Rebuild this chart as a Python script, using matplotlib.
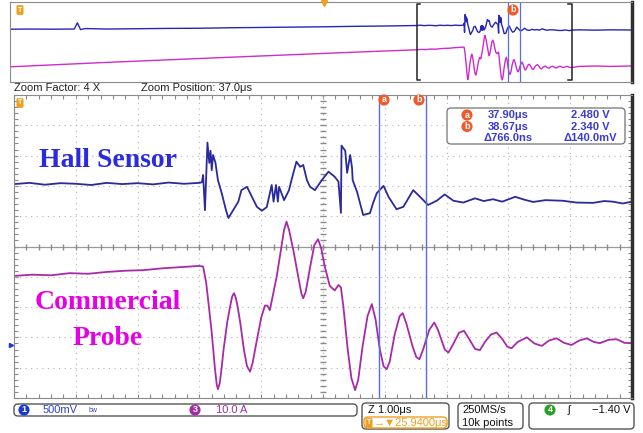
import numpy as np
import matplotlib.pyplot as plt
from matplotlib.patches import FancyBboxPatch

plt.rcParams['font.family'] = ['Liberation Sans', 'DejaVu Sans']

W, H = 643, 433

# zoom window: time in us, amplitude in screen divisions
hall_t = [32.00, 32.25, 32.50, 32.75, 33.00, 33.25, 33.50, 33.75, 34.00, 34.25,
          34.50, 34.75, 35.00, 35.04, 35.06, 35.09, 35.13, 35.16, 35.18, 35.20,
          35.22, 35.26, 35.30, 35.36, 35.43, 35.47, 35.52, 35.63, 35.68, 35.77,
          35.85, 35.93, 36.01, 36.09, 36.17, 36.20, 36.24, 36.27, 36.29, 36.37,
          36.45, 36.49, 36.57, 36.63, 36.68, 36.74, 36.79, 36.87, 36.98, 37.09,
          37.19, 37.25, 37.29, 37.30, 37.36, 37.39, 37.44, 37.47, 37.48, 37.55,
          37.65, 37.76, 37.81, 37.87, 37.98, 38.06, 38.19, 38.30, 38.46, 38.57,
          38.70, 38.84, 38.97, 39.11, 39.27, 39.46, 39.60, 39.75, 39.90, 40.11,
          40.25, 40.40, 40.60, 40.88, 41.10, 41.37, 41.55, 41.69, 41.85, 42.00]
hall_v = [2.06, 2.10, 2.04, 2.09, 2.07, 2.03, 2.10, 2.06, 2.09, 2.05,
          2.11, 2.07, 2.10, 2.12, 2.36, 1.20, 3.43, 2.76, 3.16, 2.52,
          3.02, 2.76, 2.19, 1.77, 1.20, 0.94, 1.11, 1.48, 1.86, 1.97,
          1.64, 1.31, 1.18, 1.30, 2.03, 1.48, 2.03, 1.48, 1.97, 1.53,
          1.86, 2.19, 2.80, 2.63, 2.69, 2.19, 1.97, 1.86, 2.19, 2.47,
          2.30, 2.14, 1.11, 3.33, 3.16, 2.43, 3.02, 2.59, 2.19, 1.81,
          1.04, 1.10, 1.43, 1.76, 2.00, 1.64, 1.23, 1.31, 1.86, 1.64,
          1.37, 1.51, 1.72, 1.51, 1.45, 1.59, 1.50, 1.56, 1.48, 1.64,
          1.55, 1.47, 1.53, 1.51, 1.45, 1.44, 1.50, 1.48, 1.42, 1.48]

probe_t = [32.00, 32.30, 32.60, 32.90, 33.20, 33.50, 33.80, 34.10, 34.40, 34.70,
           35.00, 35.06, 35.11, 35.16, 35.20, 35.25, 35.28, 35.30, 35.33, 35.36,
           35.39, 35.45, 35.50, 35.53, 35.56, 35.59, 35.62, 35.66, 35.72, 35.77,
           35.82, 35.86, 35.93, 36.00, 36.06, 36.10, 36.14, 36.19, 36.25, 36.32,
           36.37, 36.41, 36.45, 36.52, 36.60, 36.65, 36.68, 36.72, 36.79, 36.86,
           36.92, 36.97, 37.03, 37.11, 37.19, 37.25, 37.29, 37.33, 37.40, 37.46,
           37.52, 37.57, 37.64, 37.72, 37.79, 37.85, 37.92, 37.98, 38.03, 38.08,
           38.16, 38.24, 38.29, 38.35, 38.45, 38.51, 38.56, 38.62, 38.72, 38.80,
           38.86, 38.97, 39.03, 39.10, 39.20, 39.28, 39.35, 39.46, 39.54, 39.62,
           39.72, 39.81, 39.90, 39.98, 40.05, 40.15, 40.30, 40.42, 40.54, 40.66,
           40.78, 40.90, 41.02, 41.15, 41.27, 41.38, 41.48, 41.62, 41.75, 41.88,
           42.00]
probe_v = [-0.97, -0.93, -0.95, -0.88, -0.90, -0.84, -0.80, -0.78, -0.72, -0.68,
           -0.64, -0.66, -1.20, -2.10, -2.85, -4.00, -4.55, -4.71, -4.50, -4.00,
           -3.42, -2.50, -1.95, -1.65, -1.54, -1.70, -2.00, -2.50, -3.40, -3.95,
           -4.13, -3.85, -3.09, -2.35, -1.95, -1.95, -2.10, -1.60, -1.00, -0.10,
           0.55, 0.82, 0.55, -0.12, -1.00, -1.55, -1.71, -1.50, -0.70, 0.05,
           0.24, -0.05, -0.67, -1.30, -1.45, -1.27, -1.35, -1.99, -3.40, -4.35,
           -4.74, -4.40, -3.30, -2.30, -1.90, -2.40, -3.40, -3.95, -4.05, -3.80,
           -2.90, -2.30, -2.20, -2.55, -3.30, -3.65, -3.72, -3.40, -2.75, -2.51,
           -2.75, -3.40, -3.50, -3.25, -2.85, -2.78, -3.00, -3.38, -3.42, -3.15,
           -2.90, -2.84, -3.05, -3.30, -3.36, -3.15, -3.00, -3.20, -3.28, -3.10,
           -3.03, -3.18, -3.25, -3.10, -3.03, -3.15, -3.19, -3.08, -3.06, -3.18,
           -3.19]

# rest of the record, seen only in the overview strip
hall_pre_t = [5.75, 7.0, 8.5, 9.9, 10.1, 10.3, 10.6, 12.0, 14.0, 16.0, 18.0,
              20.0, 22.0, 24.0, 26.0, 28.0, 30.0]
hall_pre_v = [1.60, 1.62, 1.60, 1.62, 2.40, 1.55, 1.68, 1.62, 1.66, 1.70, 1.72,
              1.78, 1.82, 1.86, 1.90, 1.96, 2.00]
hall_post_t = [42.5, 43.5, 44.5, 45.9]
hall_post_v = [1.52, 1.48, 1.52, 1.50]
probe_pre_t = [5.75, 12.0, 20.0, 27.0]
probe_pre_v = [-3.10, -2.55, -1.90, -1.35]
probe_post_t = [42.5, 43.5, 44.5, 45.9]
probe_post_v = [-3.05, -3.00, -3.05, -3.00]

record = (5.75, 45.9)
zoom_center, zoom_per_div = 37.0, 1.0
cursor_t = [37.90, 38.67]
readout = [('a', '37.90μs', '2.480 V'), ('b', '38.67μs', '2.340 V'),
           ('', 'Δ766.0ns', 'Δ140.0mV')]

BLUE, MAG = '#2a2a9c', '#a82aa8'
CUR = '#5a6ae8'
ORANGE, RED = '#f0a020', '#f05a28'

fig = plt.figure(figsize=(W / 100, H / 100), dpi=100)


def frac(x0, y0, x1, y1):
    return [x0 / W, 1 - y1 / H, (x1 - x0) / W, (y1 - y0) / H]


def frame(a):
    for s in ['left', 'top', 'bottom']:
        a.spines[s].set_color('#8a8a8a')
    a.spines['right'].set_color('#303030')
    a.spines['right'].set_linewidth(2.5)


# overview strip
ov = fig.add_axes(frac(10, 2, 632, 82))
ov.plot(np.concatenate([hall_pre_t, hall_t, hall_post_t]),
        np.concatenate([hall_pre_v, hall_v, hall_post_v]), color='#2626b8', lw=1.0)
ov.plot(np.concatenate([probe_pre_t, probe_t, probe_post_t]),
        np.concatenate([probe_pre_v, probe_v, probe_post_v]), color='#d02ad0', lw=1.0)
zl, zr = zoom_center - 5 * zoom_per_div, zoom_center + 5 * zoom_per_div
for xb, d in [(zl, 0.22), (zr, -0.22)]:
    ov.plot([xb + d, xb, xb, xb + d], [4.7, 4.7, -4.75, -4.75], color='#222', lw=1.1)
for t in cursor_t:
    ov.axvline(t, color=CUR, lw=0.9)
ov.set_xlim(*record)
ov.set_ylim(-5, 5)
ov.set_xticks([])
ov.set_yticks([])
frame(ov)

# zoomed view
ax = fig.add_axes(frac(14, 95, 632, 398))
for t in np.arange(zl + 1, zr):
    ax.axvline(t, color='#b4b4b4', lw=0.8, ls=(0, (1, 4)))
for v in range(-4, 5):
    if v != 0:
        ax.axhline(v, color='#b4b4b4', lw=0.8, ls=(0, (1, 4)))
ax.axhline(0, color='#9a9a9a', lw=0.9)
ax.plot(np.arange(zl, zr + 0.01, 0.2), np.zeros(51), ls='none', marker='|',
        ms=4, color='#8a8a8a')
ax.plot(np.full(51, zoom_center), np.arange(-5, 5.01, 0.2), ls='none',
        marker='_', ms=4, color='#8a8a8a')
ax.plot(hall_t, hall_v, color=BLUE, lw=1.3)
ax.plot(probe_t, probe_v, color=MAG, lw=1.3)
for t in cursor_t:
    ax.axvline(t, color=CUR, lw=1.0)
ax.text(32.40, 2.85, 'Hall Sensor', color='#2a2ae0', fontsize=20,
        fontweight='bold', family='Liberation Serif', va='center', ha='left')
ax.text(33.51, -1.86, 'Commercial', color='#e600e6', fontsize=20,
        fontweight='bold', family='Liberation Serif', va='center', ha='center')
ax.text(33.51, -3.02, 'Probe', color='#e600e6', fontsize=20,
        fontweight='bold', family='Liberation Serif', va='center', ha='center')
ax.set_xlim(zl, zr)
ax.set_ylim(-5, 5)
ax.set_xticks(np.arange(zl, zr + 0.01, 0.2))
ax.set_yticks(np.arange(-5, 5.01, 0.2))
ax.tick_params(direction='in', top=True, right=True, length=3, color='#8a8a8a',
               labelbottom=False, labelleft=False)
frame(ax)

# on-screen labels, boxes and status bar (pixel units)
ui = fig.add_axes([0, 0, 1, 1], zorder=5)
ui.set_xlim(0, W)
ui.set_ylim(H, 0)
ui.axis('off')
ui.patch.set_alpha(0)


def badge(x, y, s, fc, fs=6.5):
    ui.text(x, y, s, ha='center', va='center', color='white', fontsize=fs,
            fontweight='bold', bbox=dict(boxstyle='circle,pad=0.12', fc=fc, ec='none'))


def tag(x, y):
    ui.text(x, y, 'T', ha='center', va='center', color='white', fontsize=5,
            fontweight='bold', bbox=dict(boxstyle='round,pad=0.2', fc=ORANGE, ec='none'))


def box(x0, y0, x1, y1, ec='#555555'):
    ui.add_patch(FancyBboxPatch((x0, y0), x1 - x0, y1 - y0,
                                boxstyle='round,pad=0,rounding_size=4',
                                fc='white', ec=ec, lw=1))


tag(20, 10)
tag(20, 103)
ui.plot(324, 3, marker='v', color=ORANGE, ms=5)
badge(513, 10, 'b', RED)
badge(384, 100, 'a', RED)
badge(419, 100, 'b', RED)
ui.plot(11, 345, marker='>', color='#2a3ad0', ms=3)

ui.text(14, 88, 'Zoom Factor: 4 X', va='center', fontsize=8, color='#222')
ui.text(141, 88, 'Zoom Position: 37.0μs', va='center', fontsize=8, color='#222')

box(447, 108, 625, 144, ec='#808080')
for i, (name, tval, vval) in enumerate(readout):
    y = 115 + i * 11.5
    if name:
        badge(467, y, name, RED)
    ui.text(508, y, tval, ha='center', va='center', fontsize=8,
            fontweight='bold', color='#3a3ad8')
    ui.text(590, y, vval, ha='center', va='center', fontsize=8,
            fontweight='bold', color='#3a3ad8')

box(14, 404, 357, 416)
badge(24, 410, '1', '#1a3ad0')
ui.text(43, 410, '500mV', va='center', fontsize=8, color='#3040c8')
ui.text(89, 410, 'bw', va='center', fontsize=5, color='#3040c8')
badge(195, 410, '3', '#a02ca8')
ui.text(216, 410, '10.0 A', va='center', fontsize=8, color='#a030a8')

box(362, 403, 449, 429)
box(364, 417, 447, 428, ec=ORANGE)
ui.text(368, 410, 'Z 1.00μs', va='center', fontsize=8, color='#111')
tag(369, 423)
ui.text(374, 423, '→▼25.9400μs', va='center', fontsize=8, color=ORANGE)

box(458, 403, 523, 429)
ui.text(462, 410, '250MS/s', va='center', fontsize=8, color='#111')
ui.text(462, 423, '10k points', va='center', fontsize=8, color='#111')

box(529, 403, 634, 429)
badge(550, 410, '4', '#2aa02a')
ui.text(568, 410, 'ʃ', va='center', fontsize=8, color='#111')
ui.text(630, 410, '−1.40 V', va='center', ha='right', fontsize=8, color='#111')

fig.savefig('out.png', dpi=100)
